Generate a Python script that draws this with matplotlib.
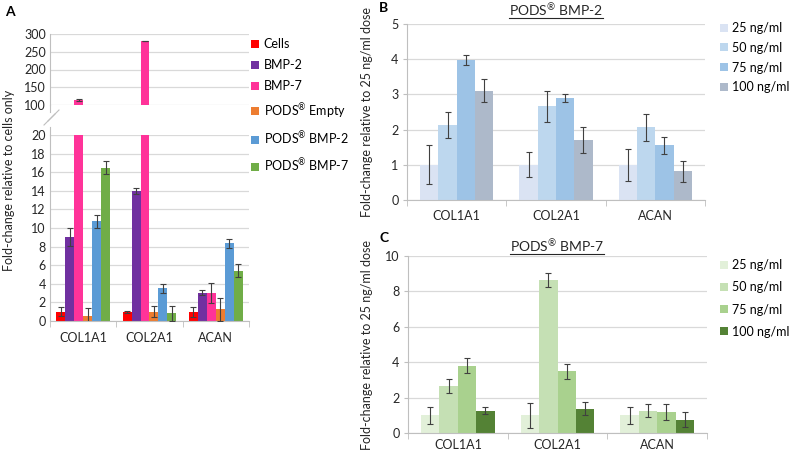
import matplotlib
matplotlib.use("Agg")
import matplotlib.pyplot as plt
import numpy as np
from matplotlib.lines import Line2D

plt.rcParams['font.family'] = ['Lato', 'DejaVu Sans']
plt.rcParams['mathtext.fontset'] = 'custom'
plt.rcParams['mathtext.rm'] = 'Lato'
plt.rcParams['mathtext.default'] = 'regular'

# ---------------- data ----------------
genes = ["COL1A1", "COL2A1", "ACAN"]

a_series = ["Cells", "BMP-2", "BMP-7", "PODS$^{\\circledR}$ Empty",
            "PODS$^{\\circledR}$ BMP-2", "PODS$^{\\circledR}$ BMP-7"]
a_cells = [1.0, 1.0, 1.0]
a_bmp2 = [9.0, 14.0, 3.05]
a_bmp7 = [114, 280, 3.0]
a_pods_empty = [0.5, 1.0, 1.25]
a_pods_bmp2 = [10.7, 3.5, 8.35]
a_pods_bmp7 = [16.5, 0.85, 5.4]
a_cells_err = [0.5, 0.1, 0.55]
a_bmp2_err = [0.95, 0.3, 0.3]
a_bmp7_err = [2.5, 1.0, 1.05]
a_pods_empty_err = [0.9, 0.6, 1.25]
a_pods_bmp2_err = [0.7, 0.45, 0.45]
a_pods_bmp7_err = [0.7, 0.8, 0.7]
a_colors = ["#FF0000", "#7030A0", "#FF3399", "#ED7D31", "#5B9BD5", "#70AD47"]

dose_labels = ["25 ng/ml", "50 ng/ml", "75 ng/ml", "100 ng/ml"]
b_25 = [1.0, 1.0, 1.0]
b_50 = [2.13, 2.67, 2.06]
b_75 = [3.98, 2.9, 1.55]
b_100 = [3.1, 1.7, 0.82]
b_25_err = [0.55, 0.36, 0.45]
b_50_err = [0.37, 0.44, 0.37]
b_75_err = [0.15, 0.12, 0.24]
b_100_err = [0.33, 0.37, 0.3]
b_colors = ["#DAE3F3", "#BDD7EE", "#9DC3E6", "#ADB9CA"]

c_25 = [1.0, 1.0, 1.0]
c_50 = [2.65, 8.65, 1.25]
c_75 = [3.8, 3.48, 1.2]
c_100 = [1.25, 1.37, 0.76]
c_25_err = [0.48, 0.69, 0.48]
c_50_err = [0.38, 0.38, 0.37]
c_75_err = [0.41, 0.44, 0.46]
c_100_err = [0.2, 0.37, 0.4]
c_colors = ["#E2F0D9", "#C5E0B4", "#A9D18E", "#548235"]

GRID = "#D9D9D9"
SPINE = "#BFBFBF"
ERRC = "#404040"
TXT = "#262626"
FS = 9

W, H = 789, 454
fig = plt.figure(figsize=(W / 100, H / 100), dpi=100)


def px_axes(l, t, r, b):
    return fig.add_axes([l / W, 1 - b / H, (r - l) / W, (b - t) / H])


def style_axes(ax, bottom=True, ytick_len=0, xpad=8):
    for s in ["top", "right"]:
        ax.spines[s].set_visible(False)
    ax.spines["left"].set_color(SPINE)
    ax.spines["bottom"].set_color(SPINE)
    ax.spines["bottom"].set_visible(bottom)
    ax.yaxis.grid(True, color=GRID, linewidth=0.9)
    ax.set_axisbelow(True)
    ax.tick_params(axis="y", length=ytick_len, color=SPINE, labelsize=FS, pad=3,
                   labelcolor=TXT)
    ax.set_xlim(-0.5, 2.5)
    x = np.arange(3)
    ax.set_xticks(x)
    ax.set_xticks([-0.5, 0.5, 1.5, 2.5], minor=True)
    if bottom:
        ax.set_xticklabels(genes)
        ax.tick_params(axis="x", which="major", length=0, labelsize=FS, pad=xpad,
                       labelcolor=TXT)
        ax.tick_params(axis="x", which="minor", length=4, color=SPINE)
    else:
        ax.tick_params(axis="x", which="both", length=0, labelbottom=False)


def grouped(ax, series, errs, colors, width):
    n = len(series)
    x = np.arange(3)
    handles = []
    for i, (vals, e, c) in enumerate(zip(series, errs, colors)):
        pos = x + (i - (n - 1) / 2) * width
        h = ax.bar(pos, vals, width, color=c, zorder=2)
        ax.errorbar(pos, vals, yerr=e, fmt="none", ecolor=ERRC, elinewidth=0.8,
                    capsize=2, capthick=0.8, zorder=3)
        handles.append(h)
    return handles


# ---------------- Panel A ----------------
a_vals = [a_cells, a_bmp2, a_bmp7, a_pods_empty, a_pods_bmp2, a_pods_bmp7]
a_errs = [a_cells_err, a_bmp2_err, a_bmp7_err, a_pods_empty_err, a_pods_bmp2_err,
          a_pods_bmp7_err]
axA_top = px_axes(50, 34, 249, 105)
axA_bot = px_axes(50, 135, 249, 321)
style_axes(axA_top, bottom=False)
style_axes(axA_bot, bottom=True)
hA = grouped(axA_top, a_vals, a_errs, a_colors, 0.135)
grouped(axA_bot, a_vals, a_errs, a_colors, 0.135)
axA_top.set_ylim(100, 300)
axA_top.set_yticks([100, 150, 200, 250, 300])
axA_bot.set_ylim(0, 20)
axA_bot.set_yticks(np.arange(0, 21, 2))

# axis continuation and break marks
fig.add_artist(Line2D([50 / W, 50 / W], [1 - 105 / H, 1 - 112 / H], color=SPINE, lw=0.8))
fig.add_artist(Line2D([50 / W, 50 / W], [1 - 127 / H, 1 - 135 / H], color=SPINE, lw=0.8))
for dx in (0, 4):
    fig.add_artist(Line2D([(44 + dx) / W, (55 + dx) / W], [1 - (125 - dx) / H, 1 - (114 - dx) / H],
                          color=SPINE, lw=0.8))

fig.text(9 / W, 1 - 180 / H, "Fold-change relative to cells only", rotation=90,
         ha="center", va="center", fontsize=FS, color=TXT)
fig.text(5 / W, 1 - 12 / H, "A", fontsize=10, fontweight="bold", ha="left", va="center")

fig.legend(hA, a_series, loc="upper left", bbox_to_anchor=(251 / W, 1 - 38 / H),
           frameon=False, fontsize=FS, handlelength=0.6, handleheight=0.6,
           handletextpad=0.4, labelspacing=0.72, borderpad=0, borderaxespad=0)

# ---------------- Panel B ----------------
axB = px_axes(407, 24, 705, 200)
style_axes(axB, ytick_len=3, xpad=7)
hB = grouped(axB, [b_25, b_50, b_75, b_100], [b_25_err, b_50_err, b_75_err, b_100_err],
             b_colors, 0.184)
axB.set_ylim(0, 5)
axB.set_yticks(np.arange(0, 6, 1))
axB.set_ylabel("Fold-change relative to 25 ng/ml dose", fontsize=FS, color=TXT)
axB.yaxis.set_label_coords((373 - 407) / 298, 0.5)
fig.legend(hB, dose_labels, loc="upper left", bbox_to_anchor=(720 / W, 1 - 22 / H),
           frameon=False, fontsize=FS, handlelength=0.6, handleheight=0.6,
           handletextpad=0.4, labelspacing=0.62, borderpad=0, borderaxespad=0)
fig.text(379 / W, 1 - 8 / H, "B", fontsize=10, fontweight="bold", ha="left", va="center")
tB = fig.text(556 / W, 1 - 10 / H, "PODS$^{\\circledR}$ BMP-2", fontsize=10,
              ha="center", va="center", color=TXT)

# ---------------- Panel C ----------------
axC = px_axes(408, 256, 707, 433)
style_axes(axC, ytick_len=3, xpad=4)
hC = grouped(axC, [c_25, c_50, c_75, c_100], [c_25_err, c_50_err, c_75_err, c_100_err],
             c_colors, 0.184)
axC.set_ylim(0, 10)
axC.set_yticks(np.arange(0, 11, 2))
axC.set_ylabel("Fold-change relative to 25 ng/ml dose", fontsize=FS, color=TXT)
axC.yaxis.set_label_coords((373 - 408) / 299, 0.5)
fig.legend(hC, dose_labels, loc="upper left", bbox_to_anchor=(720 / W, 1 - 259 / H),
           frameon=False, fontsize=FS, handlelength=0.6, handleheight=0.6,
           handletextpad=0.4, labelspacing=0.82, borderpad=0, borderaxespad=0)
fig.text(379 / W, 1 - 238 / H, "C", fontsize=10, fontweight="bold", ha="left", va="center")
tC = fig.text(557 / W, 1 - 246 / H, "PODS$^{\\circledR}$ BMP-7", fontsize=10,
              ha="center", va="center", color=TXT)

# underline titles
fig.canvas.draw()
r = fig.canvas.get_renderer()
for t in (tB, tC):
    bb = t.get_window_extent(r)
    y = (bb.y0 + 1) / fig.bbox.height
    fig.add_artist(Line2D([bb.x0 / fig.bbox.width, bb.x1 / fig.bbox.width], [y, y],
                          color=TXT, lw=0.8))

fig.savefig("out.png", dpi=100)
